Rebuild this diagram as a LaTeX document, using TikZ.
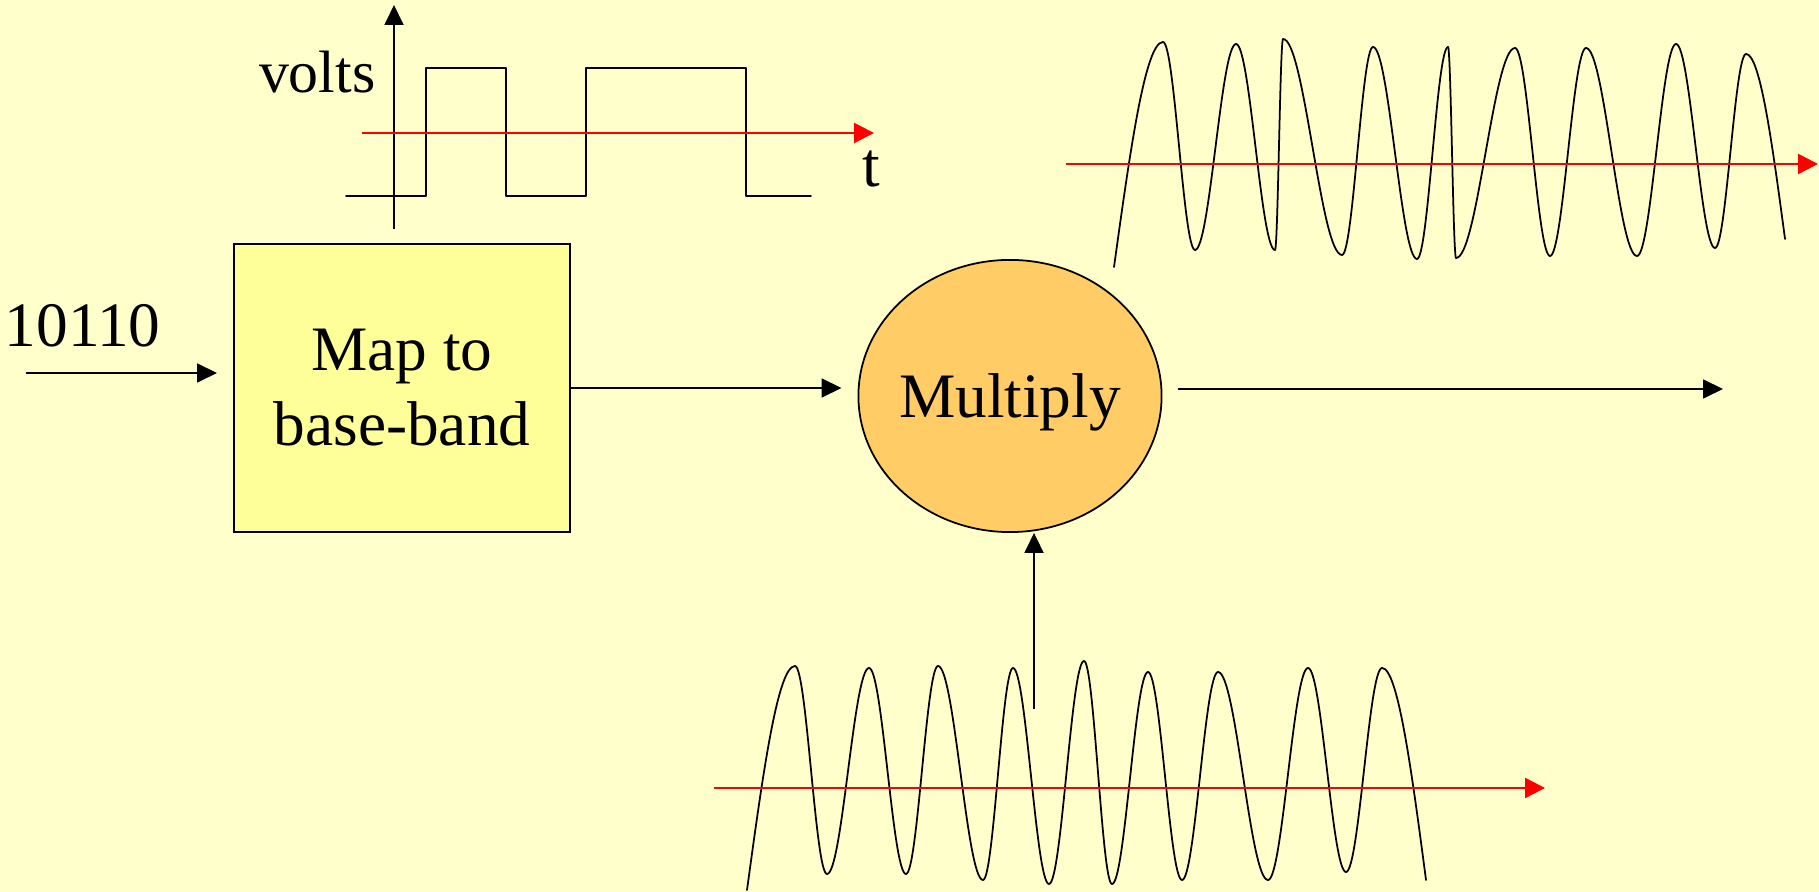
\documentclass[tikz,border=0pt]{standalone}
\usepackage{fontspec}
\setmainfont{Liberation Serif}
\usetikzlibrary{positioning,arrows.meta,calc,shapes.geometric}
\definecolor{bg}{HTML}{FFFFCC}
\definecolor{boxfill}{HTML}{FFFF99}
\definecolor{mulfill}{HTML}{FFCC66}
\definecolor{axisred}{HTML}{FF0000}

\begin{document}
\begin{tikzpicture}[
  x=0.01cm, y=-0.01cm,
  font=\fontsize{18}{21.3}\selectfont,
  blk/.style={draw, line width=0.5pt, fill=boxfill, minimum width=3.36cm, minimum height=2.88cm, align=center, inner sep=0pt},
  mul/.style={draw, line width=0.5pt, ellipse, fill=mulfill, minimum width=3.03cm, minimum height=2.72cm, inner sep=0pt},
  ar/.style={-{Triangle[length=2mm,width=1.9mm]}, line width=0.5pt},
  tax/.style={-{Triangle[length=2mm,width=2mm]}, draw=axisred, line width=0.7pt},
  sig/.style={line width=0.5pt, line cap=round, line join=round}
]
\fill[bg] (0,0) rectangle (1819,892);
\useasboundingbox (0,0) rectangle (1819,892);

% blocks
\node[blk] (map) at (402,388) {Map to\\base-band};
\node[mul, label={[text depth=0pt]center:Multiply}] (mult) at (1010,396) {};

% input bits
\coordinate (in) at (26,373);
\node[anchor=base west, inner sep=0pt] (bits) at (4,347) {10110};
\draw[ar, shorten >=0.16cm] (in) -- (in -| map.west);
\draw[ar, shorten >=0.16cm] (map.east) -- (map.east -| mult.west);

% output
\coordinate (out) at (1723,389);
\draw[ar, shorten <=0.16cm] (mult.east |- out) -- (out);

% carrier in
\coordinate (lo) at (1034,709);
\draw[ar] (lo) -- (lo |- mult.south);

% base-band signal
\coordinate (v0) at (394,229);
\coordinate (v1) at (394,5);
\coordinate (t0) at (362,133);
\coordinate (t1) at (874,133);
\draw[sig] (346,196) -| (426,68) -| (506,196) -| (586,68) -| (746,196) -- (811,196);
\draw[ar] (v0) -- (v1);
\draw[tax] (t0) -- (t1);
\node[anchor=base east, inner sep=0pt, font=\fontsize{17}{20}\selectfont] (volts) at (376,93) {volts};
\node[anchor=base, inner sep=0pt] (tlab) at (871,187) {t};

% modulated output
\draw[sig] (1114,267) sin (1163,42);
\foreach \x/\y [remember=\x as \px (initially 1163), remember=\y as \py (initially 42)] in
  {1195/250, 1236/44, 1275/250, 1283/39, 1342/255, 1373/47, 1417/259, 1448/47, 1456/258,
   1515/48, 1550/256, 1586/48, 1637/256, 1676/44, 1715/248, 1746/54}
  \draw[sig] (\px,\py) cos ({(\px+\x)/2},{(\py+\y)/2}) sin (\x,\y);
\draw[sig] (1746,54) cos (1785,239);
\coordinate (m0) at (1066,164);
\coordinate (m1) at (1818,164);
\draw[tax] (m0) -- (m1);

% carrier
\draw[sig] (747,890) sin (795,666);
\foreach \x/\y [remember=\x as \px (initially 795), remember=\y as \py (initially 666)] in
  {827/874, 869/668, 906/874, 938/666, 983/880, 1013/668, 1049/884, 1084/661, 1112/884,
   1148/672, 1182/880, 1218/672, 1268/880, 1308/668, 1346/872, 1382/668}
  \draw[sig] (\px,\py) cos ({(\px+\x)/2},{(\py+\y)/2}) sin (\x,\y);
\draw[sig] (1382,668) cos (1426,880);
\coordinate (c0) at (714,788);
\coordinate (c1) at (1545,788);
\draw[tax] (c0) -- (c1);
\end{tikzpicture}
\end{document}
